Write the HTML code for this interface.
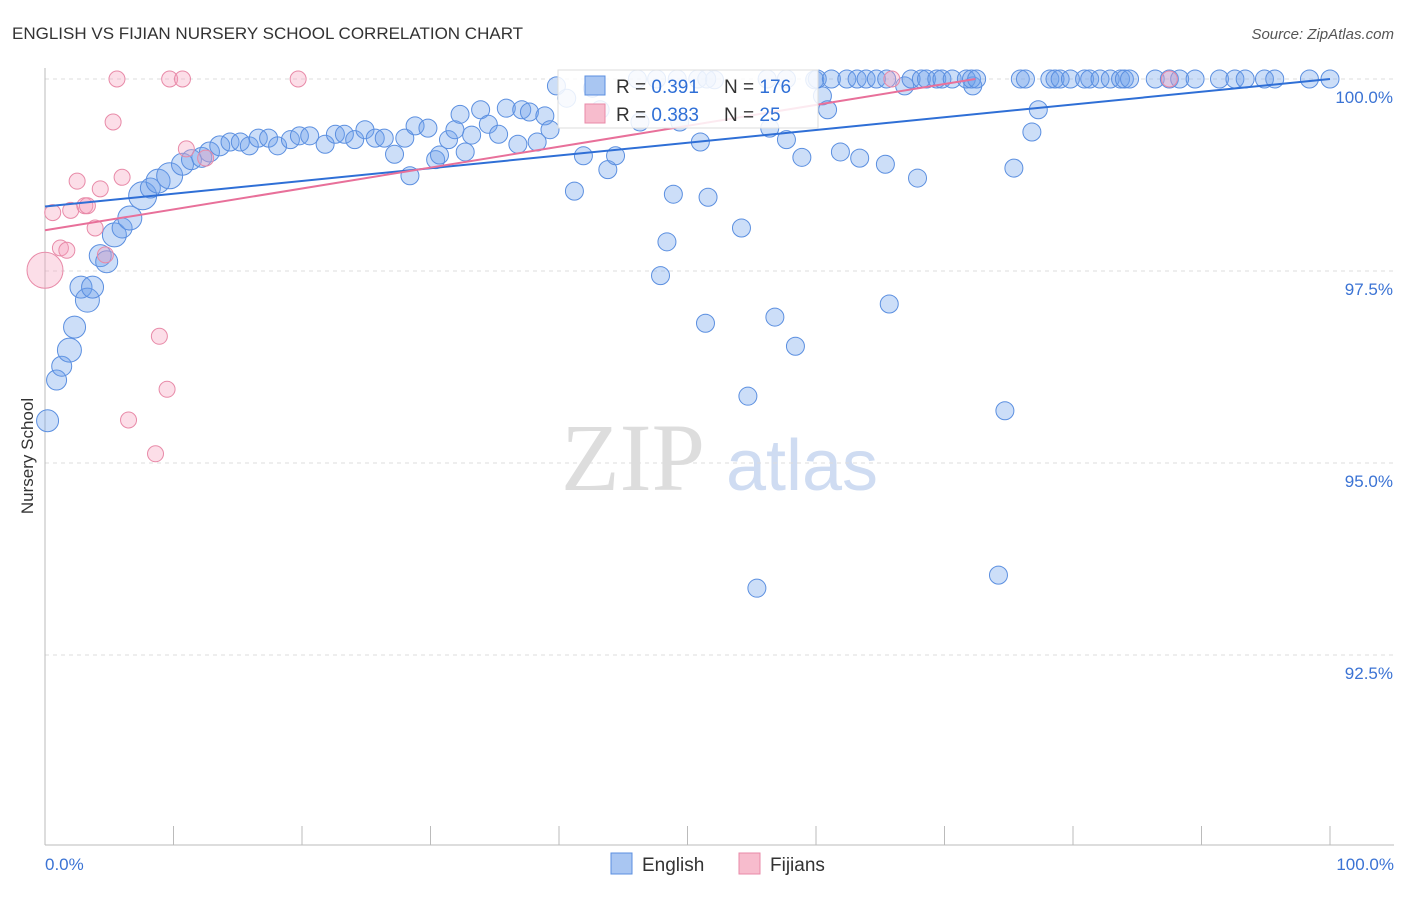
<!DOCTYPE html>
<html><head><meta charset="utf-8">
<style>
body{margin:0;background:#fff;font-family:"Liberation Sans",sans-serif;}
svg text{font-family:"Liberation Sans",sans-serif;}
</style></head>
<body>
<svg id="chart" width="1406" height="892" xmlns="http://www.w3.org/2000/svg">
<text x="12" y="39" font-size="17" fill="#333">ENGLISH VS FIJIAN NURSERY SCHOOL CORRELATION CHART</text>
<text x="1394" y="39" font-size="15" fill="#555" font-style="italic" text-anchor="end">Source: ZipAtlas.com</text>
<text x="33" y="456" font-size="17" fill="#333" transform="rotate(-90 33 456)" text-anchor="middle">Nursery School</text>
<g>
<text x="633" y="490" font-size="96" fill="#ddd" text-anchor="middle" font-family="Liberation Serif" style="font-family:'Liberation Serif',serif">ZIP</text>
<text x="802" y="490" font-size="72" fill="#cfdcf2" text-anchor="middle">atlas</text>
</g>
<g id="grid"></g>
<g id="axes"></g>
<g id="points"></g>
<g id="lines"></g>
<g>
<rect x="558" y="70" width="260" height="58" fill="#fff" fill-opacity="0.85" stroke="#ddd"/>
<rect x="585" y="76" width="20" height="19" fill="#a9c6f2" stroke="#5b8fe0"/>
<text x="616" y="93" font-size="19" fill="#333">R = <tspan fill="#2f6fd6">0.391</tspan></text>
<text x="724" y="93" font-size="19" fill="#333">N = <tspan fill="#2f6fd6">176</tspan></text>
<rect x="585" y="104" width="20" height="19" fill="#f7bccd" stroke="#e88aa8"/>
<text x="616" y="121" font-size="19" fill="#333">R = <tspan fill="#2f6fd6">0.383</tspan></text>
<text x="724" y="121" font-size="19" fill="#333">N = <tspan fill="#2f6fd6"> 25</tspan></text>
</g>
<g>
<rect x="611" y="853" width="21" height="21" fill="#a9c6f2" stroke="#5b8fe0"/>
<text x="642" y="871" font-size="19" fill="#333">English</text>
<rect x="739" y="853" width="21" height="21" fill="#f7bccd" stroke="#e88aa8"/>
<text x="770" y="871" font-size="19" fill="#333">Fijians</text>
</g>
</svg>
<script>
const yTicks=[100,97.5,95,92.5];
const yTickLabels=["100.0%","97.5%","95.0%","92.5%"];
const xTickLabels=["0.0%","100.0%"];
const englishX=[0.2,0.9,1.3,1.9,2.3,2.8,3.3,3.7,4.3,4.8,5.4,6.0,6.6,7.6,8.2,8.8,9.7,10.7,11.4,12.2,12.8,13.6,14.4,15.2,15.9,16.6,17.4,18.1,19.1,19.8,20.6,21.8,22.6,23.3,24.1,24.9,25.7,26.4,27.2,28.0,28.4,28.8,29.8,30.4,30.7,31.4,31.9,32.3,32.7,33.2,33.9,34.5,35.3,35.9,36.8,37.1,37.7,38.3,38.9,39.3,39.8,40.6,41.2,41.9,42.6,43.2,43.8,44.4,46.3,47.9,48.4,48.9,49.4,51.0,51.4,51.6,52.1,54.2,54.7,55.4,56.4,56.8,57.7,58.4,58.9,59.9,60.5,60.9,61.9,63.4,65.4,65.7,66.9,67.9,72.2,74.2,74.7,75.4,76.8,77.3,
46.1,47.6,49.2,50.8,51.5,56.2,57.7,60.1,61.2,62.4,63.2,63.9,64.7,65.5,67.4,68.2,68.6,69.4,69.8,70.6,71.7,72.1,72.5,75.9,76.3,78.2,78.6,79.0,79.8,80.9,81.3,82.1,82.9,83.7,84.0,84.4,86.4,87.5,88.3,89.5,91.4,92.6,93.4,94.9,95.7,98.4,100];
const englishY=[95.55,96.08,96.26,96.47,96.77,97.29,97.12,97.29,97.70,97.62,97.97,98.06,98.19,98.48,98.58,98.67,98.74,98.89,98.95,98.98,99.05,99.13,99.18,99.18,99.13,99.23,99.23,99.13,99.21,99.26,99.26,99.15,99.28,99.28,99.21,99.34,99.23,99.23,99.02,99.23,98.74,99.39,99.36,98.95,99.01,99.21,99.34,99.54,99.05,99.27,99.60,99.41,99.28,99.62,99.15,99.60,99.57,99.18,99.52,99.34,99.91,99.75,98.54,99.00,99.88,99.60,98.82,99.00,99.44,97.44,97.88,98.50,99.44,99.18,96.82,98.46,99.99,98.06,95.87,93.37,99.36,96.90,99.21,96.52,98.98,99.99,99.78,99.60,99.05,98.97,98.89,97.07,99.91,98.71,99.91,93.54,95.68,98.84,99.31,99.60,
100,100,100,100,100,100,100,100,100,100,100,100,100,100,100,100,100,100,100,100,100,100,100,100,100,100,100,100,100,100,100,100,100,100,100,100,100,100,100,100,100,100,100,100,100,100,100];
const englishSize=[11,10,10,12,11,11,12,11,11,11,12,10,12,14,10,12,13,11,10,10,10,10];
const fijiX=[0,0.6,1.2,1.7,2.0,2.5,3.1,3.3,3.9,4.3,4.7,5.3,5.6,6.0,6.5,8.6,8.9,9.5,9.7,10.7,11.0,12.5,19.7,65.9,87.5];
const fijiY=[97.51,98.26,97.80,97.77,98.29,98.67,98.35,98.35,98.06,98.57,97.71,99.44,100,98.72,95.56,95.12,96.65,95.96,100,100,99.09,98.97,100,100,100];
const fijiSize=[18];
const trendEnglish=[98.34,100];
const trendFiji=[98.03,100,72.4];

const X0=45,X1=1330,Y100=79,PX_PER_PCT=192/2.5;
const sx=v=>X0+(X1-X0)*v/100;
const sy=v=>Y100+(100-v)*PX_PER_PCT;
const NS="http://www.w3.org/2000/svg";
function mk(tag,attrs,parent){const e=document.createElementNS(NS,tag);for(const k in attrs)e.setAttribute(k,attrs[k]);parent.appendChild(e);return e;}
const grid=document.getElementById('grid'),axes=document.getElementById('axes'),pts=document.getElementById('points'),lines=document.getElementById('lines');
yTicks.forEach((t,i)=>{
 const l=mk('line',{x1:45,x2:1394,y1:sy(t),y2:sy(t),stroke:'#ddd','stroke-dasharray':'4 4'},grid);
 
 
 const tx=mk('text',{x:1393,y:sy(t)+24,'font-size':17,fill:'#3b73d4','text-anchor':'end'},axes);
 tx.textContent=yTickLabels[i];
 
 
});
const yax=mk('line',{x1:45,x2:45,y1:68,y2:845,stroke:'#bbb'},axes);


const xax=mk('line',{x1:45,x2:1394,y1:845,y2:845,stroke:'#bbb'},axes);


for(let i=0;i<=10;i++){
 const t=mk('line',{x1:sx(i*10),x2:sx(i*10),y1:826,y2:845,stroke:'#bbb'},axes);
 
 
}
[[0,'start',45],[100,'end',1394]].forEach((a,i)=>{
 const t=mk('text',{x:a[2],y:870,'font-size':17,fill:'#3b73d4','text-anchor':a[1]},axes);
 t.textContent=xTickLabels[i];
 
 
});
englishX.forEach((x,i)=>{
 const c=mk('circle',{cx:sx(x),cy:sy(englishY[i]),r:englishSize[i]||9,fill:'rgba(110,160,235,0.35)',stroke:'#5b8fe0','stroke-width':1},pts);
 
 
});
fijiX.forEach((x,i)=>{
 const c=mk('circle',{cx:sx(x),cy:sy(fijiY[i]),r:fijiSize[i]||8,fill:'rgba(245,160,190,0.35)',stroke:'#e88aa8','stroke-width':1},pts);
 
 
});
const l1=mk('line',{x1:sx(0),y1:sy(trendEnglish[0]),x2:sx(100),y2:sy(trendEnglish[1]),stroke:'#2f6fd6','stroke-width':2},lines);


const l2=mk('line',{x1:sx(0),y1:sy(trendFiji[0]),x2:sx(trendFiji[2]),y2:sy(trendFiji[1]),stroke:'#e8709a','stroke-width':2},lines);


</script>
</body></html>
